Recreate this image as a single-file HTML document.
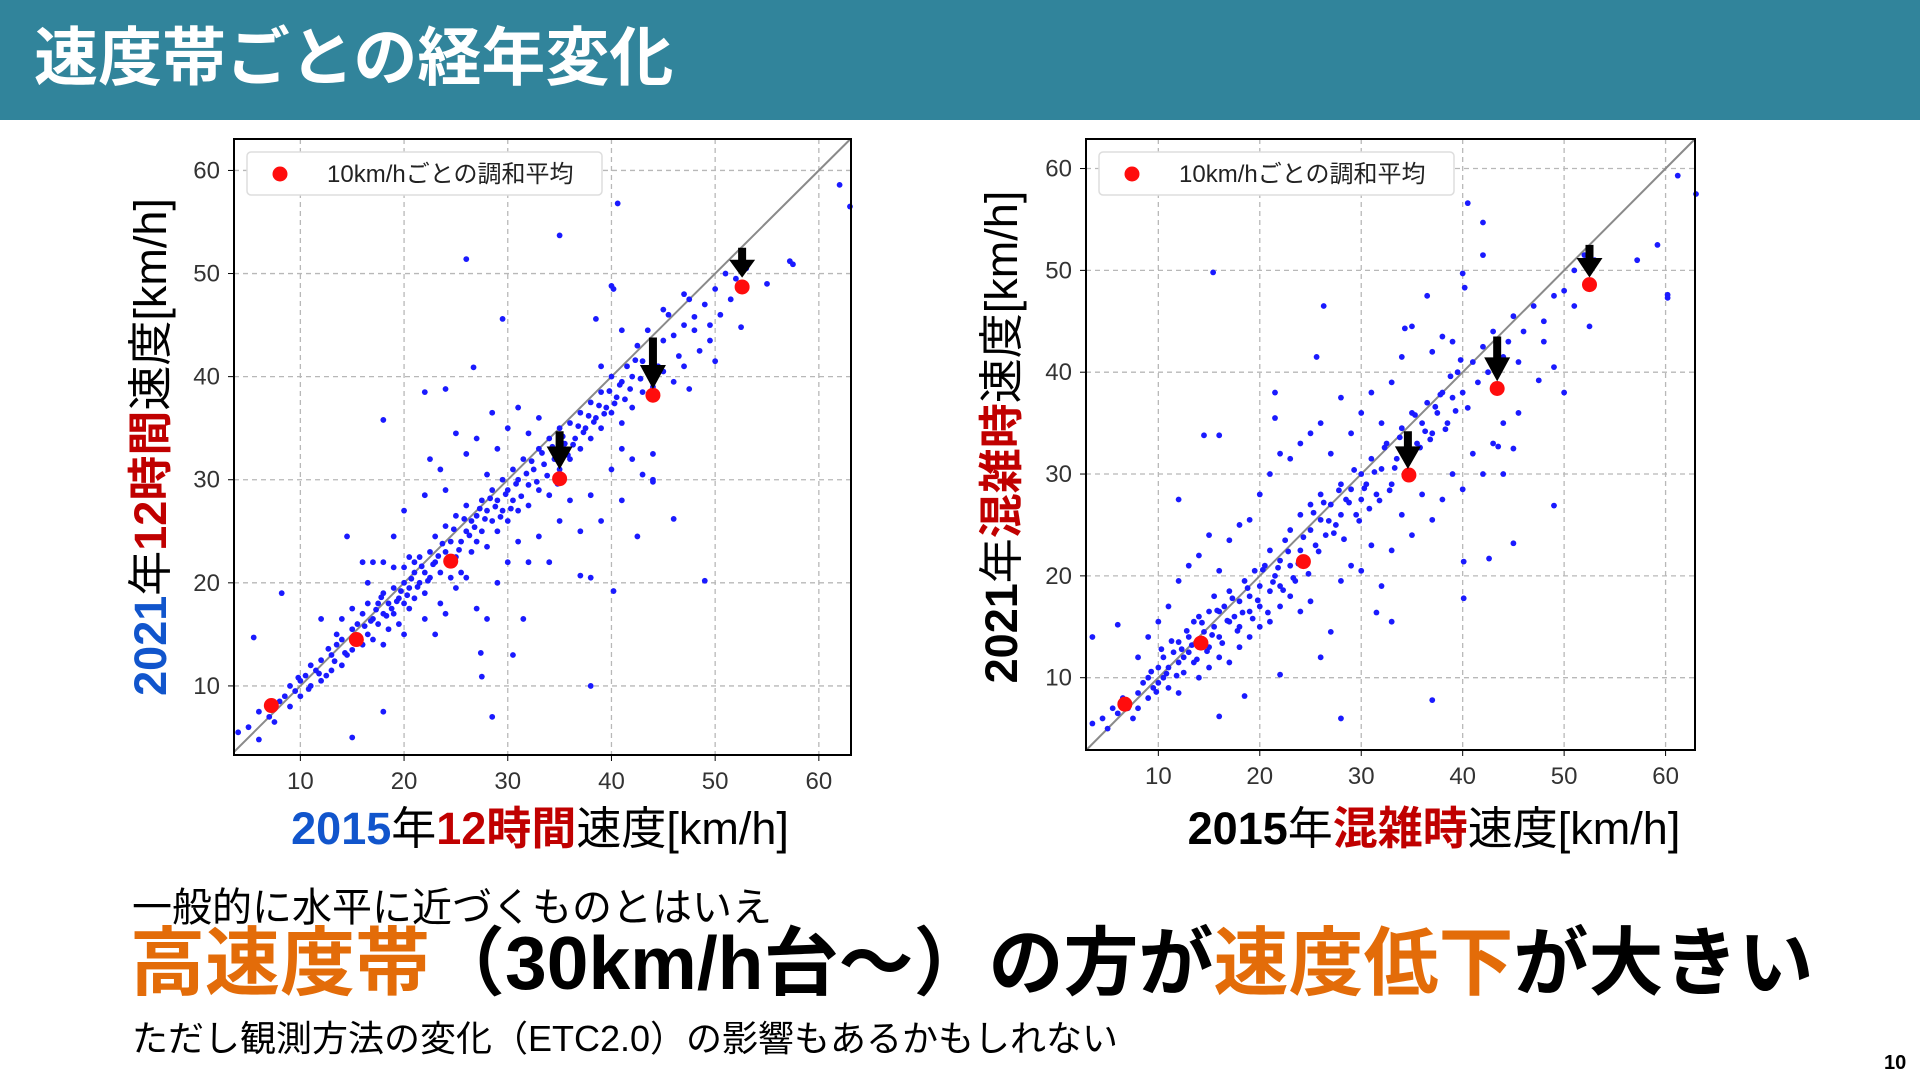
<!DOCTYPE html>
<html><head><meta charset="utf-8">
<style>
html,body{margin:0;padding:0;width:1920px;height:1080px;overflow:hidden;background:#fff;font-family:"Liberation Sans","Noto Sans CJK JP",sans-serif;}
#hdr{position:absolute;left:0;top:0;width:1920px;height:120px;background:#31849b;}
#title{position:absolute;left:34px;top:20px;color:#fff;font-size:64px;font-weight:bold;line-height:76px;white-space:nowrap;}
.txt{position:absolute;white-space:nowrap;color:#000;}
.b{font-weight:bold}.blue{color:#1155cc}.red{color:#c00000}.org{color:#e36c09}
svg{position:absolute;left:0;top:0;}
</style></head><body>
<div id="hdr"><div id="title">速度帯ごとの経年変化</div></div>
<svg id="chart" width="1920" height="1080"></svg>
<div class="txt" style="left:290px;top:792px;font-size:45px;width:500px;text-align:center;"><span class="b blue">2015</span>年<span class="b red">12時間</span>速度[km/h]</div>
<div class="txt" style="left:-99px;top:420px;width:500px;text-align:center;font-size:45px;line-height:54px;transform:rotate(-90deg);"><span class="b blue">2021</span>年<span class="b red">12時間</span>速度[km/h]</div>
<div class="txt" style="left:1184px;top:792px;font-size:45px;width:500px;text-align:center;"><span class="b">2015</span>年<span class="b red">混雑時</span>速度[km/h]</div>
<div class="txt" style="left:752px;top:410px;width:500px;text-align:center;font-size:45px;line-height:54px;transform:rotate(-90deg);"><span class="b">2021</span>年<span class="b red">混雑時</span>速度[km/h]</div>
<div class="txt" style="left:132px;top:875px;font-size:40px;">一般的に水平に近づくものとはいえ</div>
<div class="txt b" style="left:130px;top:918px;font-size:75px;line-height:90px;"><span class="org">高速度帯</span>（30km/h台～）の方が<span class="org">速度低下</span>が大きい</div>
<div class="txt" style="left:132px;top:1010px;font-size:36px;">ただし観測方法の変化（ETC2.0）の影響もあるかもしれない</div>
<div class="txt b" style="left:1884px;top:1052px;font-size:20px;">10</div>
<script>
const ticks=[10,20,30,40,50,60];
const tickLabels=["10","20","30","40","50","60"];
const legendLabel="10km/hごとの調和平均";
// left chart (12h)
const leftPts=[5,6,6,7.5,7,7,7.5,6.5,8,8.5,8.5,9,9,8,9,10,9.5,9.5,10,10.5,10,9,10.5,11,11,10,11,12,11.5,11.5,12,10.5,12,12.5,12.5,11,13,13,13,11.5,13.5,14,14,12,14,14.5,14.5,13,15,15.5,15,13.5,15.5,16,16,14,16,17,16.5,15,16.5,18,17,16.5,17,14.5,17.5,18,17.5,16,18,17,18,19,18.5,15.5,18.5,18,19,19.5,19,17,19.5,18.5,19.5,16,20,20,20,18,20,21.5,20.5,17.5,20.5,19.5,21,21,21,18.5,21.5,20,21.5,22.5,22,19,22,21,22.5,23,22.5,20.5,23,22,23,24.5,23.5,21,23.5,18,24,23,24,25.5,24.5,20.5,24.5,24,25,22.5,25,26.5,25.5,24,25.5,21,26,25,26,27.5,26.5,23,26.5,26,27,26.5,27,24,27.5,28,27.5,25,28,27,28,23.5,28.5,29,28.5,26,29,28,29,25,29.5,30,29.5,27,30,29,30,26,30.5,31,30.5,28,31,30,31,27,31.5,32,32,29.5,32,27.5,32.5,31,33,33,33,29,33.5,31.5,34,34,34,28.5,34.5,32,35,35,35,31,35.5,33.5,36,32,36,35.5,36.5,34,37,36.5,37,33,37.5,35,38,37.5,38,34,38.5,36,39,38.5,39,35,39.5,37,40,40,40,36.5,40.5,38,41,39.5,41,35.5,41.5,41,42,40,42,37,42.5,43,43,41.5,43,38.5,43.5,44.5,44,42,44,39,44.5,41,45,43.5,45,40.5,45.5,46,46,44,46,39.5,46.5,42,47,45,47,41,47.5,47.5,48,44.5,48.5,42.5,49,47,49.5,45,50,48.5,50.5,46,51,50,51.5,47.5,52,49.5,52.5,51,53,50.5,52.5,44.8,50,41.5,49.5,43.5,47.5,38.8,
12,16.5,13.5,15,15,17.5,16,22,17,22,18,22,19,24.5,20,27,21,22,22,28.5,22.5,32,23.5,31,24,29,25,34.5,26,32.5,27,34,28,30.5,29,33,30,35,31,37,32,34.5,33,36,20.5,22.5,19,21.5,16.5,20,14,16.5,
18,14,20,15,22,16.5,23,15,24,17,25,19.5,26,20.5,27,17.5,28,16.5,29,20,30,22,31,24,32,22,33,24.5,34,22,35,26,36,28,37,25,38,28.5,39,26,40,31,41,28,42,32,43,30.5,44,30,41,33,
9.8,10.8,10.8,9.7,11.8,11.2,12.7,13.6,13.3,12.4,14.3,13.2,15.3,14.6,16.2,15.8,16.8,16.3,17.3,17.4,17.8,18.6,18.3,16.8,18.8,17.5,19.3,18.2,19.7,19.2,20.3,18.8,20.7,20.4,21.3,19.6,21.7,21.6,22.3,20.2,22.8,21.8,23.3,22.6,23.7,23.8,24.3,21.8,24.8,25.2,25.3,23.2,25.8,26.2,26.3,24.6,26.8,25.4,27.3,27.2,27.8,26.2,28.3,28.2,28.8,27.4,29.3,26.4,29.8,28.6,30.3,27.2,30.8,29.6,31.3,28.4,31.8,30.6,32.3,31.8,32.8,29.8,33.3,32.6,33.8,30.4,34.3,33.2,34.8,29.6,35.3,34.2,35.8,32.4,36.3,33.4,36.8,35.2,37.3,34.6,37.8,36.2,38.3,35.6,38.8,37.2,39.3,36.4,39.8,38.6,40.3,37.4,40.8,39.2,41.3,37.8,41.8,38.8,42.3,41.6,42.8,39.8,
62,58.6,63,56.5,40.6,56.8,35,53.7,26,51.4,57.2,51.2,57.5,50.9,55,49,40,48.8,40.2,48.5,29.5,45.6,26.7,40.9,22,38.5,24,38.8,18,35.8,28.5,36.5,5.5,14.7,8.2,19,15,5,28.5,7,38,10,49,20.2,46,26.2,42.5,24.5,40.2,19.2,37,20.7,38,20.5,14.5,24.5,31.5,16.5,30.5,13,27.5,10.9,27.4,13.2,18,7.5,4,5.5,6,4.8,44,29.8,44,32.5,39,41,38.5,45.6,41,44.5,45,46.5,47,48,48,45.8];
const leftMeanX=[7.2,15.4,24.5,35,44,52.6];
const leftMeanY=[8.1,14.5,22.1,30.1,38.2,48.7];
const leftArrX=[35,44,52.6];
const leftArrTop=[34.7,43.8,52.5];
const leftArrTip=[31.0,38.8,49.6];
// right chart (congested)
const rightPts=[3.5,5.5,4.5,6,5,5,5.5,7,6,6.5,6.5,8,7,7,7.5,6,8,8.5,8,7,8.5,9.5,9,8,9,10,9.5,9,10,11,10,9.5,10.5,10,10.5,12,11,11,11,9,11.5,12.5,12,11.5,12,13.5,12.5,12,12.5,10.5,13,14,13,12.5,13.5,11.5,13.5,15.5,14,13,14,16,14.5,14.5,15,13,15,16.5,15.5,15,15.5,18,16,16.5,16,14,16.5,17,17,15.5,17,18.5,17.5,16,18,17.5,18,15,18.5,19.5,19,16.5,19,18,19.5,20.5,20,19,20,17,20.5,21,21,18.5,21,22.5,21.5,20,22,21.5,22,19,22.5,23.5,23,21,23,24.5,23.5,19.5,24,22.5,24,26,24.5,21,25,24.5,25,27,25.5,23,26,25.5,26,28,26.5,24,27,27,27.5,25,28,29,28,26,28.5,27.5,29,28.5,29.5,26,30,30,30,27.5,30.5,29,31,31.5,31.5,28,32,30.5,32.5,33,33,29,33.5,31.5,34,34.5,34.5,32,35,36,35.5,33,36,35,36.5,37,37,34,37.5,36,38,38,38.5,35,39,37.5,39.5,40,40,38,40.5,36.5,41,41,41.5,39,42,42.5,42.5,40,43,44,44,41.5,44.5,43,45,45.5,45.5,41,46,44,47,46.5,48,45,49,47.5,50,48,51,50,52,51.5,52.5,50.5,53,51,52.5,44.5,51,46.5,49,40.5,50,38,
8,12,9,14,10,15.5,11,17,12,19.5,13,21,14,22,15,24,16,20.5,17,23.5,18,25,19,25.5,20,28,21,30,22,32,23,31.5,24,33,25,34,26,35,27,32,28,37.5,29,34,30,36,31,38,32,35,33,39,34,41.5,35,44.5,37,42,38,43.5,39,43,
12,8.5,14,10,15,11,16,12,17,11.5,18,13,19,14,20,15,21,15.5,22,17,23,18,24,16.5,25,17.5,26,12,27,14.5,28,19.5,29,21,30,20.5,31,23,32,19,33,22.5,34,26,35,24,36,28,37,25.5,38,27.5,39,30,40,28.5,41,32,42,30,43,33,44,35,45,32.5,45.5,36,
9.3,10.6,9.8,8.6,10.3,12.8,10.8,10.4,11.3,13.6,11.8,10.2,12.3,12.8,12.8,14.6,13.3,13.2,13.8,11.8,14.3,15.4,14.8,12.6,15.3,14.2,15.8,16.6,16.3,13.4,16.8,15.6,17.3,17.8,17.8,14.6,18.3,16.4,18.8,18.8,19.3,15.8,19.8,17.6,20.3,20.6,20.8,16.4,21.3,19.4,21.8,20.8,22.3,18.6,22.8,22.4,23.3,19.8,23.8,21.2,24.3,23.8,24.8,20.2,25.3,26.2,25.8,22.4,26.3,27.2,26.8,25.4,27.3,24.2,27.8,28.4,28.3,23.6,28.8,27.2,29.3,30.4,29.8,25.4,30.3,28.6,30.8,26.6,31.3,30.2,31.8,27.4,32.3,32.6,32.8,28.4,33.3,30.6,33.8,33.6,34.3,29.8,34.8,31.6,35.3,35.8,35.8,32.6,36.3,34.2,36.8,33.4,37.3,36.6,37.8,37.8,38.3,34.4,38.8,39.6,39.3,36.2,39.8,41.2,
61.2,59.3,63,57.5,40.5,56.6,42,54.7,15.4,49.8,59.2,52.5,57.2,51,60.2,47.6,60.2,47.3,26.3,46.5,36.5,47.5,25.6,41.5,21.5,38,21.5,35.5,14.5,33.8,16,33.8,12,27.5,3.5,14,6,15.2,16,6.2,28,6,37,7.8,49,26.9,45,23.2,40.1,17.8,40.1,21.4,42.6,21.7,33,15.5,31.5,16.4,22,10.3,18.5,8.2,40,49.7,40.2,48.3,42,51.5,34.3,44.3,43.5,32.7,44,30,48,43,47.5,39.2];
const rightMeanX=[6.7,14.2,24.3,34.7,43.4,52.5];
const rightMeanY=[7.4,13.4,21.4,29.9,38.4,48.6];
const rightArrX=[34.6,43.4,52.5];
const rightArrTop=[34.2,43.5,52.5];
const rightArrTip=[30.5,39.1,49.3];

const NS="http://www.w3.org/2000/svg";
const svg=document.getElementById('chart');
function mk(tag,attrs,parent){const e=document.createElementNS(NS,tag);for(const k in attrs)e.setAttribute(k,attrs[k]);parent.appendChild(e);return e;}
function drawChart(name,box,dom,pts,mx,my,ax,atop,atip,legendW){
  const g=mk('g',{},svg);
  
  
  const sx=v=>box.x0+(v-dom.x0)/(dom.x1-dom.x0)*(box.x1-box.x0);
  const sy=v=>box.y1-(v-dom.y0)/(dom.y1-dom.y0)*(box.y1-box.y0);
  ticks.forEach((t,i)=>{
    const gx=mk('line',{x1:sx(t),x2:sx(t),y1:box.y0,y2:box.y1,stroke:'#b8b8b8','stroke-width':1.3,'stroke-dasharray':'5,4'},g);
    
    
    const gy=mk('line',{x1:box.x0,x2:box.x1,y1:sy(t),y2:sy(t),stroke:'#b8b8b8','stroke-width':1.3,'stroke-dasharray':'5,4'},g);
    
    
    const tx=mk('text',{x:sx(t),y:box.y1+34,'text-anchor':'middle','font-size':24,fill:'#333'},g);
    tx.textContent=tickLabels[i];
    
    
    const ty=mk('text',{x:box.x0-14,y:sy(t)+8,'text-anchor':'end','font-size':24,fill:'#333'},g);
    ty.textContent=tickLabels[i];
    
    
    mk('line',{x1:sx(t),x2:sx(t),y1:box.y1,y2:box.y1+6,stroke:'#000'},g);
    mk('line',{x1:box.x0-6,x2:box.x0,y1:sy(t),y2:sy(t),stroke:'#000'},g);
  });
  const lo=Math.max(dom.x0,dom.y0),hi=Math.min(dom.x1,dom.y1);
  const diag=mk('line',{x1:sx(lo),y1:sy(lo),x2:sx(hi),y2:sy(hi),stroke:'#8a8a8a','stroke-width':2},g);
  
  
  for(let i=0;i<pts.length;i+=2){
    const c=mk('circle',{cx:sx(pts[i]),cy:sy(pts[i+1]),r:2.9,fill:'#1a1aff'},g);
    
    
  }
  mx.forEach((v,i)=>{
    const c=mk('circle',{cx:sx(v),cy:sy(my[i]),r:7.5,fill:'#ff0d0d'},g);
    
    
  });
  ax.forEach((v,i)=>{
    const x=sx(v),y0=sy(atop[i]),y1=sy(atip[i]),hl=Math.min(24,(y1-y0)*0.6);
    const p=mk('path',{d:`M${x-4},${y0} L${x+4},${y0} L${x+4},${y1-hl} L${x+13},${y1-hl} L${x},${y1} L${x-13},${y1-hl} L${x-4},${y1-hl} Z`,fill:'#000'},g);
    
    
  });
  const lg=mk('g',{},g);
  
  
  mk('rect',{x:box.x0+13,y:box.y0+13,width:legendW,height:43,rx:4,fill:'#fff',stroke:'#ddd','stroke-width':1.5},lg);
  mk('circle',{cx:box.x0+46,cy:box.y0+35,r:7.5,fill:'#ff0d0d'},lg);
  const lt=mk('text',{x:box.x0+93,y:box.y0+43,'font-size':24,fill:'#222'},lg);
  lt.textContent=legendLabel;
  mk('rect',{x:box.x0,y:box.y0,width:box.x1-box.x0,height:box.y1-box.y0,fill:'none',stroke:'#000','stroke-width':2},g);
}
drawChart('left-scatter-chart',{x0:234,x1:851,y0:139,y1:755},{x0:3.6,x1:63.1,y0:3.3,y1:63.05},leftPts,leftMeanX,leftMeanY,leftArrX,leftArrTop,leftArrTip,355);
drawChart('right-scatter-chart',{x0:1086,x1:1695,y0:139,y1:750},{x0:2.87,x1:62.9,y0:2.9,y1:62.9},rightPts,rightMeanX,rightMeanY,rightArrX,rightArrTop,rightArrTip,355);
</script>
</body></html>
